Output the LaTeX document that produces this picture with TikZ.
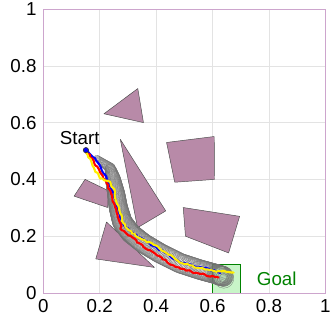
\documentclass[tikz,border=0pt]{standalone}
\usepackage{fontspec}
\setmainfont{Liberation Sans}
\usepackage{tikz}
\usetikzlibrary{positioning, decorations.pathmorphing}

\definecolor{obstfill}{RGB}{184,138,168}
\definecolor{axbox}{RGB}{205,165,205}
\definecolor{goalgreen}{RGB}{0,130,0}
\definecolor{goalfill}{RGB}{200,245,200}
\definecolor{trajyellow}{RGB}{255,238,0}

\begin{document}
\begin{tikzpicture}[x=8.46cm, y=8.52cm,
  obst/.style={draw=black!70, fill=obstfill, line width=0.4pt, line join=round},
  gridln/.style={draw=black!11, line width=0.5pt},
  lbl/.style={font=\fontsize{16}{19}\selectfont, inner sep=0pt},
  tubeln/.style={draw=black!55, line width=0.25pt},
  traj/.style={line width=1.8pt, line join=round, line cap=round, decorate,
               decoration={random steps, segment length=2.2pt, amplitude=0.8pt}}]
  \useasboundingbox (-1.30cm,-1.14cm) rectangle (8.57cm,8.79cm);
  % grid
  \foreach \i in {1,...,4} {
    \draw[gridln] ({\i*0.2},0) -- ({\i*0.2},1);
    \draw[gridln] (0,{\i*0.2}) -- (1,{\i*0.2});
  }
  % obstacles
  \draw[obst] (0.215,0.631) -- (0.335,0.720) -- (0.355,0.600) -- cycle;
  \draw[obst] (0.273,0.541) -- (0.434,0.289) -- (0.334,0.230) -- cycle;
  \draw[obst] (0.437,0.530) -- (0.606,0.551) -- (0.607,0.400) -- (0.466,0.390) -- cycle;
  \draw[obst] (0.109,0.341) -- (0.148,0.400) -- (0.231,0.360) -- (0.228,0.301) -- cycle;
  \draw[obst] (0.224,0.250) -- (0.186,0.120) -- (0.394,0.090) -- cycle;
  \draw[obst] (0.496,0.301) -- (0.696,0.270) -- (0.657,0.141) -- (0.504,0.200) -- cycle;
  % goal region
  \node[draw=goalgreen, fill=goalfill, line width=0.6pt, inner sep=0pt,
        minimum width=0.846cm, minimum height=0.852cm] (goal) at (0.65,0.05) {};
  % tube of circles along the path (x/y/radius in pt per segment)
  \foreach \xa/\ya/\ra/\xb/\yb/\rb in {
      0.190/0.475/2.5/0.237/0.440/4.5, 0.237/0.440/4.5/0.247/0.400/6.5,
      0.247/0.400/6.5/0.258/0.350/7.5, 0.258/0.350/7.5/0.266/0.300/8,
      0.266/0.300/8/0.280/0.250/8.5,   0.280/0.250/8.5/0.310/0.210/8.5,
      0.310/0.210/8.5/0.355/0.175/8.5, 0.355/0.175/8.5/0.414/0.140/8.5,
      0.414/0.140/8.5/0.485/0.105/8.5, 0.485/0.105/8.5/0.556/0.082/8.5,
      0.556/0.082/8.5/0.615/0.066/8.5, 0.615/0.066/8.5/0.640/0.058/8.5} {
    \foreach \k in {0,...,15} {
      \pgfmathsetmacro\cx{\xa+(\xb-\xa)*\k/16}
      \pgfmathsetmacro\cy{\ya+(\yb-\ya)*\k/16}
      \pgfmathsetmacro\rr{\ra+(\rb-\ra)*\k/16}
      \draw[tubeln] (\cx,\cy) circle (\rr pt);
    }
  }
  \foreach \r in {4,5.5,7,8.5}
    \draw[tubeln] (0.640,0.052) circle (\r pt);
  % trajectories
  \pgfmathsetseed{11}
  \draw[traj, blue] (0.151,0.503) -- (0.184,0.474) -- (0.207,0.432) -- (0.231,0.391)
    -- (0.249,0.350) -- (0.260,0.309) -- (0.272,0.268) -- (0.290,0.233) -- (0.320,0.209)
    -- (0.367,0.180) -- (0.426,0.145) -- (0.485,0.109) -- (0.556,0.091) -- (0.586,0.085)
    -- (0.627,0.070);
  \draw[traj, red] (0.151,0.500) -- (0.178,0.467) -- (0.201,0.426) -- (0.225,0.385)
    -- (0.243,0.344) -- (0.254,0.303) -- (0.266,0.262) -- (0.278,0.221) -- (0.314,0.197)
    -- (0.355,0.162) -- (0.402,0.133) -- (0.462,0.097) -- (0.509,0.079) -- (0.556,0.067)
    -- (0.621,0.055);
  \draw[traj, trajyellow] (0.151,0.497) -- (0.178,0.444) -- (0.201,0.403) -- (0.237,0.391)
    -- (0.254,0.356) -- (0.260,0.316) -- (0.272,0.281) -- (0.284,0.246) -- (0.302,0.222)
    -- (0.343,0.193) -- (0.391,0.170) -- (0.438,0.140) -- (0.491,0.105) -- (0.556,0.088)
    -- (0.604,0.078) -- (0.675,0.072);
  % start point and labels
  \node[circle, fill=blue, draw=black!80, line width=0.6pt, inner sep=0pt,
        minimum size=4.5pt] (start) at (0.151,0.503) {};
  \node[lbl, anchor=base] (startlbl) at (0.129,0.523) {Start};
  \node[lbl, text=goalgreen, right=0.47cm of goal] (goallbl) {Goal};
  % axes
  \draw[axbox, line width=0.8pt] (0,0) rectangle (1,1);
  \foreach \i/\t in {0/0,1/0.2,2/0.4,3/0.6,4/0.8,5/1} {
    \node[lbl, anchor=base] (xt\i) at ({\i*0.2},0) [yshift=-0.58cm] {\t};
    \node[lbl, anchor=east] (yt\i) at (0,{\i*0.2}) [xshift=-0.2cm] {\t};
  }
\end{tikzpicture}
\end{document}
